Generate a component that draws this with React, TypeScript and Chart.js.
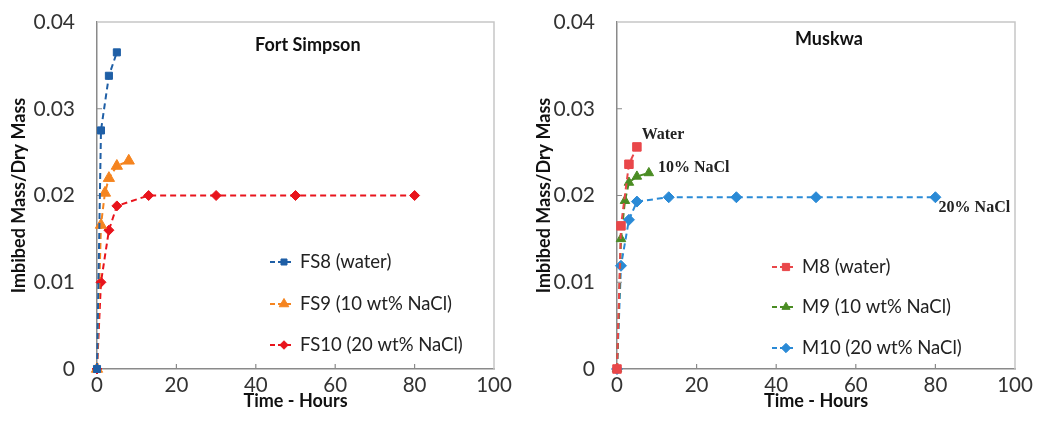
import React, { useEffect, useRef } from 'react';
import { Chart, registerables } from 'chart.js';
import { drawPoint } from 'chart.js/helpers';

Chart.register(...registerables);

// ---------- data ----------
const xTickValues = [0, 20, 40, 60, 80, 100];
const yTickValues = [0, 0.01, 0.02, 0.03, 0.04];

// Fort Simpson
const fs8Time = [0, 1, 3, 5];
const fs8Values = [0, 0.0275, 0.0338, 0.0365];
const fs9Time = [0, 1, 2, 3, 5, 8];
const fs9Values = [0, 0.0166, 0.0203, 0.022, 0.0234, 0.024];
const fs10Time = [0, 1, 3, 5, 13, 30, 50, 80];
const fs10Values = [0, 0.01, 0.016, 0.0188, 0.02, 0.02, 0.02, 0.02];

// Muskwa
const m8Time = [0, 1, 3, 5];
const m8Values = [0, 0.0165, 0.0236, 0.0256];
const m9Time = [0, 1, 2, 3, 5, 8];
const m9Values = [0, 0.015, 0.0194, 0.0215, 0.0222, 0.0226];
const m10Time = [0, 1, 3, 5, 13, 30, 50, 80];
const m10Values = [0, 0.0119, 0.0172, 0.0193, 0.0198, 0.0198, 0.0198, 0.0198];

const fsLabels = ['FS8 (water)', 'FS9 (10 wt% NaCl)', 'FS10 (20 wt% NaCl)'];
const mLabels = ['M8 (water)', 'M9 (10 wt% NaCl)', 'M10 (20 wt% NaCl)'];

const mNotes = ['Water', '10% NaCl', '20% NaCl'];
const mNoteX = [6.2, 10.3, 80.8];
const mNoteY = [0.027, 0.0232, 0.0186];

// ---------- styling ----------
const SANS = 'Lato, "Open Sans", sans-serif';
const SERIF = '"Liberation Serif", "DejaVu Serif", serif';
const AXIS = '#8a8a8a';

type Series = {
  label: string;
  x: number[];
  y: number[];
  color: string;
  style: string;
  radius: number;
};

type Panel = {
  title: string;
  titleDX: number;
  titleDY: number;
  yAxisWidth: number;
  yTitlePad: number;
  series: Series[];
  legendDX: number;
  legendYs: number[];
  notes?: { text: string; x: number; y: number }[];
};

const fortSimpson: Panel = {
  title: 'Fort Simpson',
  titleDX: 158,
  titleDY: 23,
  yAxisWidth: 97,
  yTitlePad: 8,
  series: [
    { label: fsLabels[0], x: fs8Time, y: fs8Values, color: '#1f5fa6', style: 'rect', radius: 5 },
    { label: fsLabels[1], x: fs9Time, y: fs9Values, color: '#f5841f', style: 'triangle', radius: 6.5 },
    { label: fsLabels[2], x: fs10Time, y: fs10Values, color: '#e8141c', style: 'rectRot', radius: 5 },
  ],
  legendDX: 173,
  legendYs: [262, 304, 345],
};

const muskwa: Panel = {
  title: 'Muskwa',
  titleDX: 178,
  titleDY: 17,
  yAxisWidth: 96,
  yTitlePad: 12,
  series: [
    { label: mLabels[0], x: m8Time, y: m8Values, color: '#e9474a', style: 'rect', radius: 6 },
    { label: mLabels[1], x: m9Time, y: m9Values, color: '#4a8c23', style: 'triangle', radius: 5.5 },
    { label: mLabels[2], x: m10Time, y: m10Values, color: '#2a8ad6', style: 'rectRot', radius: 5.5 },
  ],
  legendDX: 155,
  legendYs: [267, 307, 348],
  notes: mNotes.map((t, i) => ({ text: t, x: mNoteX[i], y: mNoteY[i] })),
};

function makeChart(canvas: HTMLCanvasElement, panel: Panel) {
  const framePlugin = {
    id: 'frame',
    beforeDatasetsDraw(chart: any) {
      const { ctx, chartArea } = chart;
      const { left, right, top, bottom } = chartArea;
      const xs = chart.scales.x;
      const ys = chart.scales.y;
      ctx.save();
      ctx.strokeStyle = '#c6c6c6';
      ctx.lineWidth = 1.5;
      ctx.beginPath();
      ctx.moveTo(left, top);
      ctx.lineTo(right, top);
      ctx.lineTo(right, bottom);
      ctx.stroke();
      ctx.strokeStyle = AXIS;
      ctx.lineWidth = 1.2;
      ctx.beginPath();
      xs.ticks.forEach((t: any) => {
        if (t.value > 0 && t.value < 100) {
          const px = xs.getPixelForValue(t.value);
          ctx.moveTo(px, bottom);
          ctx.lineTo(px, bottom - 5);
        }
      });
      ys.ticks.forEach((t: any) => {
        if (t.value > 0 && t.value < 0.04) {
          const py = ys.getPixelForValue(t.value);
          ctx.moveTo(left, py);
          ctx.lineTo(left + 5, py);
        }
      });
      ctx.stroke();
      ctx.restore();
    },
  };

  const overlayPlugin = {
    id: 'overlay',
    afterDraw(chart: any) {
      const { ctx, chartArea } = chart;
      ctx.save();
      // panel title
      ctx.font = `bold 18px ${SANS}`;
      ctx.fillStyle = '#111';
      ctx.textAlign = 'left';
      ctx.textBaseline = 'middle';
      ctx.fillText(panel.title, chartArea.left + panel.titleDX, chartArea.top + panel.titleDY);

      // legend
      chart.data.datasets.forEach((ds: any, i: number) => {
        const y = panel.legendYs[i];
        const sx = chartArea.left + panel.legendDX;
        ctx.save();
        ctx.strokeStyle = ds.borderColor;
        ctx.lineWidth = 2;
        ctx.setLineDash([5, 3]);
        ctx.beginPath();
        ctx.moveTo(sx, y);
        ctx.lineTo(sx + 22, y);
        ctx.stroke();
        ctx.setLineDash([]);
        ctx.fillStyle = ds.pointBackgroundColor;
        ctx.strokeStyle = ds.pointBorderColor;
        ctx.lineWidth = 1;
        drawPoint(ctx, { pointStyle: ds.pointStyle, radius: ds.pointRadius * 0.85, rotation: 0, borderWidth: 1 }, sx + 14, y);
        ctx.restore();
        ctx.font = `18.5px ${SANS}`;
        ctx.fillStyle = '#222';
        ctx.textAlign = 'left';
        ctx.textBaseline = 'middle';
        ctx.fillText(ds.label, sx + 30, y);
      });

      // annotations
      if (panel.notes) {
        const xs = chart.scales.x;
        const ys = chart.scales.y;
        ctx.font = `bold 16px ${SERIF}`;
        ctx.fillStyle = '#222';
        ctx.textAlign = 'left';
        ctx.textBaseline = 'middle';
        panel.notes.forEach((n) => {
          ctx.fillText(n.text, xs.getPixelForValue(n.x), ys.getPixelForValue(n.y));
        });
      }
      ctx.restore();
    },
  };

  return new Chart(canvas, {
    type: 'line',
    data: {
      datasets: panel.series.map((s) => ({
        label: s.label,
        data: s.x.map((x, i) => ({ x, y: s.y[i] })),
        borderColor: s.color,
        backgroundColor: s.color,
        pointBackgroundColor: s.color,
        pointBorderColor: s.color,
        borderWidth: 2,
        borderDash: [6, 4],
        pointStyle: s.style,
        pointRadius: s.radius,
        pointBorderWidth: 1,
        tension: 0,
        clip: false,
      })),
    },
    plugins: [framePlugin, overlayPlugin],
    options: {
      animation: false,
      responsive: false,
      devicePixelRatio: 1,
      layout: { padding: { left: 0, right: 27, top: 22, bottom: 0 } },
      plugins: {
        legend: { display: false },
        tooltip: { enabled: false },
        title: { display: false },
      },
      scales: {
        x: {
          type: 'linear',
          min: 0,
          max: 100,
          afterBuildTicks: (s: any) => {
            s.ticks = xTickValues.map((v) => ({ value: v }));
          },
          afterFit: (s: any) => {
            s.height = 70;
            s.paddingLeft = 0;
            s.paddingRight = 0;
            s.paddingTop = 0;
            s.paddingBottom = 0;
          },
          grid: { display: false, drawTicks: false },
          border: { display: true, color: AXIS, width: 1.5 },
          ticks: {
            padding: 4,
            color: '#333',
            font: { family: SANS, size: 20.5 },
            callback: (v: any) => String(v),
          },
          title: {
            display: true,
            text: 'Time - Hours',
            color: '#111',
            font: { family: SANS, size: 18, weight: 'bold' },
            padding: { top: 0, bottom: 27 },
          },
        },
        y: {
          type: 'linear',
          min: 0,
          max: 0.04,
          afterBuildTicks: (s: any) => {
            s.ticks = yTickValues.map((v) => ({ value: v }));
          },
          afterFit: (s: any) => {
            s.width = panel.yAxisWidth;
            s.paddingLeft = 0;
            s.paddingRight = 0;
            s.paddingTop = 0;
            s.paddingBottom = 0;
          },
          grid: { display: false, drawTicks: false },
          border: { display: true, color: AXIS, width: 1.5 },
          ticks: {
            padding: 22,
            color: '#333',
            font: { family: SANS, size: 21 },
            callback: (v: any) => (Number(v) === 0 ? '0' : Number(v).toFixed(2)),
          },
          title: {
            display: true,
            text: 'Imbibed Mass/Dry Mass',
            color: '#111',
            font: { family: SANS, size: 18, weight: 'bold' },
            padding: { top: panel.yTitlePad, bottom: 0 },
          },
        },
      },
    } as any,
  });
}

function PanelChart({ panel, left }: { panel: Panel; left: number }) {
  const ref = useRef<HTMLCanvasElement | null>(null);
  useEffect(() => {
    if (!ref.current) return;
    const chart = makeChart(ref.current, panel);
    return () => chart.destroy();
  }, [panel]);
  return (
    <div style={{ position: 'absolute', left, top: 0, width: 521, height: 439 }}>
      <canvas ref={ref} width={521} height={439} style={{ display: 'block', width: 521, height: 439 }} />
    </div>
  );
}

export default function App() {
  return (
    <div style={{ position: 'absolute', left: 0, top: 0, width: 1042, height: 439, background: '#fff' }}>
      <PanelChart panel={fortSimpson} left={0} />
      <PanelChart panel={muskwa} left={521} />
    </div>
  );
}
